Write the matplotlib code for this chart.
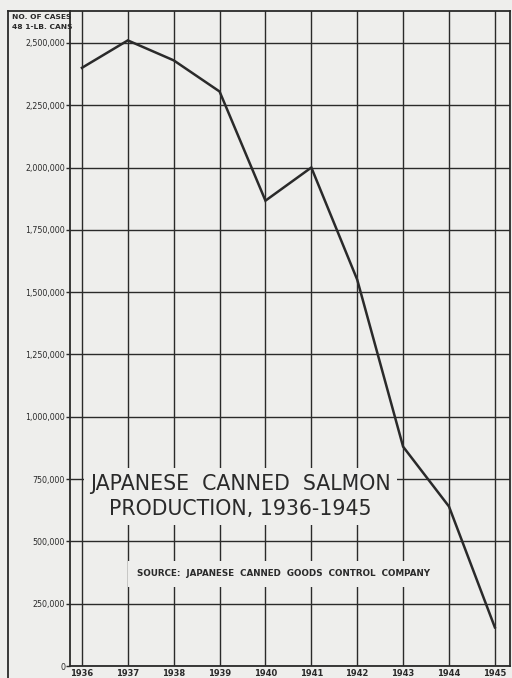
import matplotlib
matplotlib.use("Agg")
import matplotlib.pyplot as plt
from matplotlib.lines import Line2D

years = [1936, 1937, 1938, 1939, 1940, 1941, 1942, 1943, 1944, 1945]
cases = [2400000, 2510000, 2430000, 2305000, 1867000, 2000000, 1550000, 880000, 640000, 155000]
ytick_vals = [0, 250000, 500000, 750000, 1000000, 1250000, 1500000, 1750000, 2000000, 2250000, 2500000]
ytick_labels = ["0", "250,000", "500,000", "750,000", "1,000,000", "1,250,000",
                "1,500,000", "1,750,000", "2,000,000", "2,250,000", "2,500,000"]
ylabel_lines = ["NO. OF CASES", "48 1-LB. CANS"]
title_lines = ["JAPANESE  CANNED  SALMON", "PRODUCTION, 1936-1945"]
source_text = "SOURCE:  JAPANESE  CANNED  GOODS  CONTROL  COMPANY"

BG = "#eeeeec"
INK = "#2a2a2a"
W, H = 512, 678

fig = plt.figure(figsize=(W / 100, H / 100), dpi=100, facecolor=BG)
ax = fig.add_axes([70 / W, (H - 666) / H, (510 - 70) / W, (666 - 11) / H])
ax.set_facecolor(BG)

ax.set_xlim(1935.74, 1945.33)
ax.set_ylim(0, 2628000)

ax.set_xticks(years)
ax.set_xticklabels([str(y) for y in years], fontsize=6, fontweight="bold", color=INK)
ax.set_yticks(ytick_vals)
ax.set_yticklabels(ytick_labels, fontsize=5.7, color=INK)
ax.tick_params(axis="y", length=3, width=1, pad=0.5, color=INK)
ax.tick_params(axis="x", length=0, pad=2)

ax.grid(True, color=INK, linewidth=1.0, zorder=1)
for s in ax.spines.values():
    s.set_color(INK)
    s.set_linewidth(1.3)

ax.plot(years, cases, color=INK, linewidth=1.8, zorder=4, solid_joinstyle="miter")

# Title block with background covering the grid
ax.text(1939.45, 680000, title_lines[0] + "\n" + title_lines[1],
        ha="center", va="center", fontsize=14.8, color=INK, multialignment="center",
        linespacing=1.3, zorder=3,
        bbox=dict(boxstyle="square,pad=0.3", facecolor=BG, edgecolor="none"))

ax.text(1940.4, 370000, source_text, ha="center", va="center", fontsize=6.3,
        fontweight="bold", color=INK, zorder=3,
        bbox=dict(boxstyle="square,pad=1.0", facecolor=BG, edgecolor="none"))

# Y-axis header
fig.text(12 / W, 1 - 17 / H, ylabel_lines[0], fontsize=5.4, fontweight="bold",
         color=INK, va="center", ha="left")
fig.text(12 / W, 1 - 27 / H, ylabel_lines[1], fontsize=5.4, fontweight="bold",
         color=INK, va="center", ha="left")

# Outer frame
fig.add_artist(Line2D([8 / W, 8 / W], [0, 1 - 11 / H], transform=fig.transFigure,
                      color=INK, linewidth=1.3))
fig.add_artist(Line2D([8 / W, 70 / W], [1 - 11 / H, 1 - 11 / H], transform=fig.transFigure,
                      color=INK, linewidth=1.3))

fig.savefig("out.png", dpi=100, facecolor=BG)
